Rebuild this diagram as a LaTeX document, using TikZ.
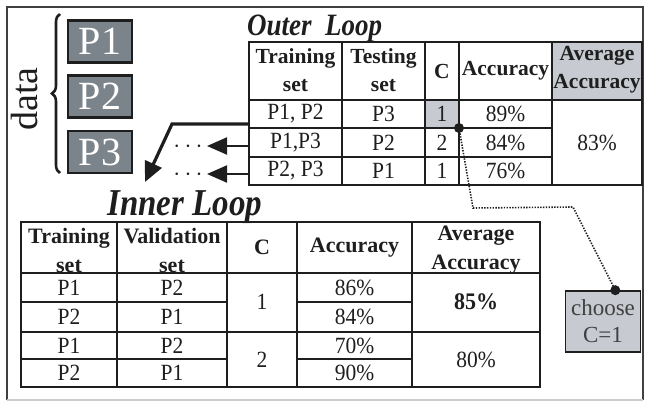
\documentclass[tikz,border=0pt]{standalone}
\usepackage{fontspec}
\setmainfont{Liberation Serif}
\usetikzlibrary{arrows.meta,decorations.pathreplacing}
\definecolor{slate}{HTML}{7C848B}
\definecolor{lightg}{HTML}{C7CAD0}
\definecolor{dark}{HTML}{1E1E1E}
\begin{document}
\begin{tikzpicture}[x=1pt,y=-1pt,
  tline/.style={line width=2.6pt,draw=dark},
  cell/.style={font=\fontsize{21.5}{22}\selectfont,align=center,inner sep=0pt,text=dark,yscale=1.08},
  hcell/.style={font=\fontsize{21.5}{28}\selectfont\bfseries,align=center,inner sep=0pt,text=dark},
  ihcell/.style={hcell,font=\fontsize{22}{29}\selectfont\bfseries},
  pbox/.style={draw=dark,line width=2.4pt,fill=slate,text=white,font=\fontsize{40}{40}\selectfont,minimum width=64pt,minimum height=42pt,inner sep=0pt},
  titletext/.style={font=\fontsize{27}{27}\selectfont\bfseries\itshape,inner sep=0pt,text=dark,yscale=1.15},
  bigarrow/.style={line width=3.2pt,draw=dark,-{Triangle[length=20pt,width=18pt]}},
  smallarrow/.style={line width=2pt,draw=dark,-{Triangle[length=20pt,width=17pt]}},
  dotline/.style={line width=1.6pt,draw=dark,dash pattern=on 1.4pt off 1.4pt},
  blob/.style={circle,fill=dark,minimum size=10pt,inner sep=0pt},
  dotstext/.style={font=\fontsize{28}{28}\selectfont,inner sep=0pt,text=dark}
]
\useasboundingbox (0,0) rectangle (647,402);
% frame
\draw[line width=1.8pt,draw=dark!85] (7,400) -- (7,7) -- (643,7) -- (643,400);
\draw[line width=1.8pt,draw=black!20] (7,400) -- (643,400);

% data partitions
\node[pbox] (p1) at (100,41.5) {P1};
\node[pbox] (p2) at (100,96.5) {P2};
\node[pbox] (p3) at (100,152) {P3};
\draw[decorate,decoration={brace,amplitude=8pt},line width=2.6pt,draw=dark] (60,173) -- (60,14);
\node[rotate=90,anchor=base,font=\fontsize{38}{38}\selectfont,inner sep=0pt,text=dark] (data) at (37,99) {data};

% outer loop
\node[titletext,anchor=base west] (otitle) at (247,35) {Outer~~Loop};
\fill[lightg] (552,42) rectangle (642,100);
\fill[lightg] (425,100) rectangle (459,128);
\draw[tline] (249,42) rectangle (642,185);
\draw[tline] (249,100) -- (642,100);
\draw[tline] (249,128) -- (552,128);
\draw[tline] (249,157) -- (552,157);
\foreach \x in {342,425,459,552} \draw[tline] (\x,42) -- (\x,185);

\node[hcell] (oh1) at (295.5,70) {Training\\set};
\node[hcell] (oh2) at (383.5,70) {Testing\\set};
\node[hcell] (oh3) at (442,71) {C};
\node[hcell] (oh4) at (505.5,71) {Accuracy};
\node[hcell] (oh5) at (597,70) {Average\\Accuracy};

\node[cell] (o11) at (295.5,114) {P1, P2};
\node[cell] (o12) at (383.5,114) {P3};
\node[cell] (o13) at (442,114) {1};
\node[cell] (o14) at (505.5,114) {89\%};
\node[cell] (o21) at (295.5,142.5) {P1,P3};
\node[cell] (o22) at (383.5,142.5) {P2};
\node[cell] (o23) at (442,142.5) {2};
\node[cell] (o24) at (505.5,142.5) {84\%};
\node[cell] (o31) at (295.5,171) {P2, P3};
\node[cell] (o32) at (383.5,171) {P1};
\node[cell] (o33) at (442,171) {1};
\node[cell] (o34) at (505.5,171) {76\%};
\node[cell] (oavg) at (597,142.5) {83\%};

% arrows to inner loop
\coordinate (a0) at (249,124);
\coordinate (a1) at (172,124);
\coordinate (a2) at (145,182);
\draw[bigarrow] (a0) -- (a1) -- (a2);
\coordinate (b0) at (249,146);
\coordinate (b1) at (207,146);
\coordinate (c0) at (249,174);
\coordinate (c1) at (207,174);
\draw[smallarrow] (b0) -- (b1);
\draw[smallarrow] (c0) -- (c1);
\node[dotstext] (d1) at (188,147) {$\cdots$};
\node[dotstext] (d2) at (188,175) {$\cdots$};

% inner loop
\node[titletext,anchor=base west,font=\fontsize{33}{33}\selectfont\bfseries\itshape] (ititle) at (107,215) {Inner Loop};
\draw[tline] (21,222) rectangle (540,387);
\draw[tline] (21,273) -- (540,273);
\draw[tline] (21,332) -- (540,332);
\draw[tline] (21,302) -- (227,302);
\draw[tline] (297,302) -- (412,302);
\draw[tline] (21,359) -- (227,359);
\draw[tline] (297,359) -- (412,359);
\foreach \x in {117,227,297,412} \draw[tline] (\x,222) -- (\x,387);

\node[ihcell] (ih1) at (69,250) {Training\\set};
\node[ihcell] (ih2) at (172,250) {Validation\\set};
\node[ihcell] (ih3) at (262,247.5) {C};
\node[ihcell] (ih4) at (354.5,247.5) {Accuracy};
\node[ihcell] (ih5) at (476,250) {Average\\Accuracy};

\node[cell] (i11) at (69,287.5) {P1};
\node[cell] (i12) at (172,287.5) {P2};
\node[cell] (i14) at (354.5,287.5) {86\%};
\node[cell] (i21) at (69,317) {P2};
\node[cell] (i22) at (172,317) {P1};
\node[cell] (i24) at (354.5,317) {84\%};
\node[cell] (i31) at (69,345.5) {P1};
\node[cell] (i32) at (172,345.5) {P2};
\node[cell] (i34) at (354.5,345.5) {70\%};
\node[cell] (i41) at (69,373) {P2};
\node[cell] (i42) at (172,373) {P1};
\node[cell] (i44) at (354.5,373) {90\%};
\node[cell] (ic1) at (262,302) {1};
\node[cell] (ic2) at (262,359.5) {2};
\node[cell,font=\fontsize{22}{22}\selectfont\bfseries] (iavg1) at (476,302) {85\%};
\node[cell] (iavg2) at (476,359.5) {80\%};

% choose box and dotted link
\node[draw=dark,line width=1.6pt,fill=lightg,minimum width=75pt,minimum height=61pt,inner sep=0pt,align=center,font=\fontsize{23}{27}\selectfont,text=dark!85] (choose) at (603,321.5) {choose\\C=1};
\coordinate (cdot) at ([xshift=-26pt]choose.north east);
\node[blob] (odot) at (459,128) {};
\coordinate (k1) at (473,208);
\coordinate (k2) at (573,207);
\draw[dotline] (odot.center) -- (k1) -- (k2) -- (cdot);
\node[blob] (cdotb) at (cdot) {};
\end{tikzpicture}
\end{document}
